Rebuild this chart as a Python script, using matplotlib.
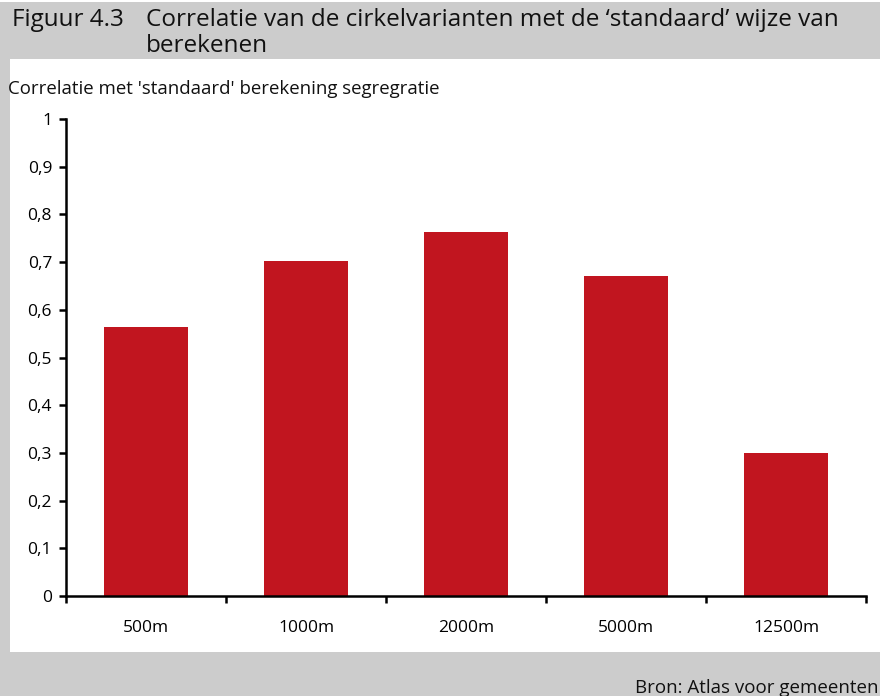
import matplotlib
matplotlib.use("Agg")
import matplotlib.pyplot as plt
from matplotlib.patches import Rectangle

categories = ["500m", "1000m", "2000m", "5000m", "12500m"]
values = [0.564, 0.702, 0.763, 0.671, 0.300]
yticks = [0, 0.1, 0.2, 0.3, 0.4, 0.5, 0.6, 0.7, 0.8, 0.9, 1.0]
ytick_labels = ["0", "0,1", "0,2", "0,3", "0,4", "0,5", "0,6", "0,7", "0,8", "0,9", "1"]

plt.rcParams['font.family'] = ['Open Sans', 'DejaVu Sans']

W, H = 880, 696
fig = plt.figure(figsize=(W / 100, H / 100), dpi=100)
fig.patch.set_facecolor('white')

def fx(px):
    return px / W

def fy(py):
    return 1 - py / H

grey = '#cccccc'
# grey background
fig.patches.append(Rectangle((0, 0), 1, fy(2), transform=fig.transFigure,
                             facecolor=grey, edgecolor='none', zorder=0))
# white panel
fig.patches.append(Rectangle((fx(10), fy(652)), 1 - fx(10), fy(59) - fy(652),
                             transform=fig.transFigure, facecolor='white',
                             edgecolor='none', zorder=1))

tsize = 17.45
# Title
fig.text(fx(12), fy(26), "Figuur 4.3", fontsize=tsize, color='#111111',
         ha='left', va='baseline')
fig.text(fx(146), fy(26), "Correlatie van de cirkelvarianten met de \u2018standaard\u2019 wijze van",
         fontsize=tsize, color='#111111', ha='left', va='baseline')
fig.text(fx(146), fy(52), "berekenen", fontsize=tsize, color='#111111',
         ha='left', va='baseline')

# axis title
fig.text(fx(8), fy(94), "Correlatie met 'standaard' berekening segregratie",
         fontsize=13.4, color='#111111', ha='left', va='baseline')

# source
fig.text(fx(878), fy(693), "Bron: Atlas voor gemeenten", fontsize=13.5,
         color='#111111', ha='right', va='baseline')

ax = fig.add_axes([fx(66), fy(596), fx(866) - fx(66), fy(119) - fy(596)])
ax.set_zorder(3)
ax.patch.set_alpha(0)
x = list(range(len(categories)))
ax.bar(x, values, width=0.53, color='#c1151f', zorder=2)
ax.set_xlim(-0.5, len(categories) - 0.5)
ax.set_ylim(0, 1)

ax.set_yticks(yticks)
ax.set_yticklabels(ytick_labels)
ax.set_xticks([i - 0.5 for i in range(len(categories) + 1)])
ax.set_xticklabels([])
ax.set_xticks(x, minor=True)
ax.set_xticklabels(categories, minor=True)

for s in ['top', 'right']:
    ax.spines[s].set_visible(False)
for s in ['left', 'bottom']:
    ax.spines[s].set_linewidth(1.8)
    ax.spines[s].set_color('black')

ax.tick_params(axis='y', direction='out', length=5, width=1.8, pad=5,
               labelsize=12.5, colors='black')
ax.tick_params(axis='x', which='major', direction='out', length=5, width=1.8)
ax.tick_params(axis='x', which='minor', length=0, pad=17, labelsize=12.5)

fig.savefig("out.png", dpi=100)
